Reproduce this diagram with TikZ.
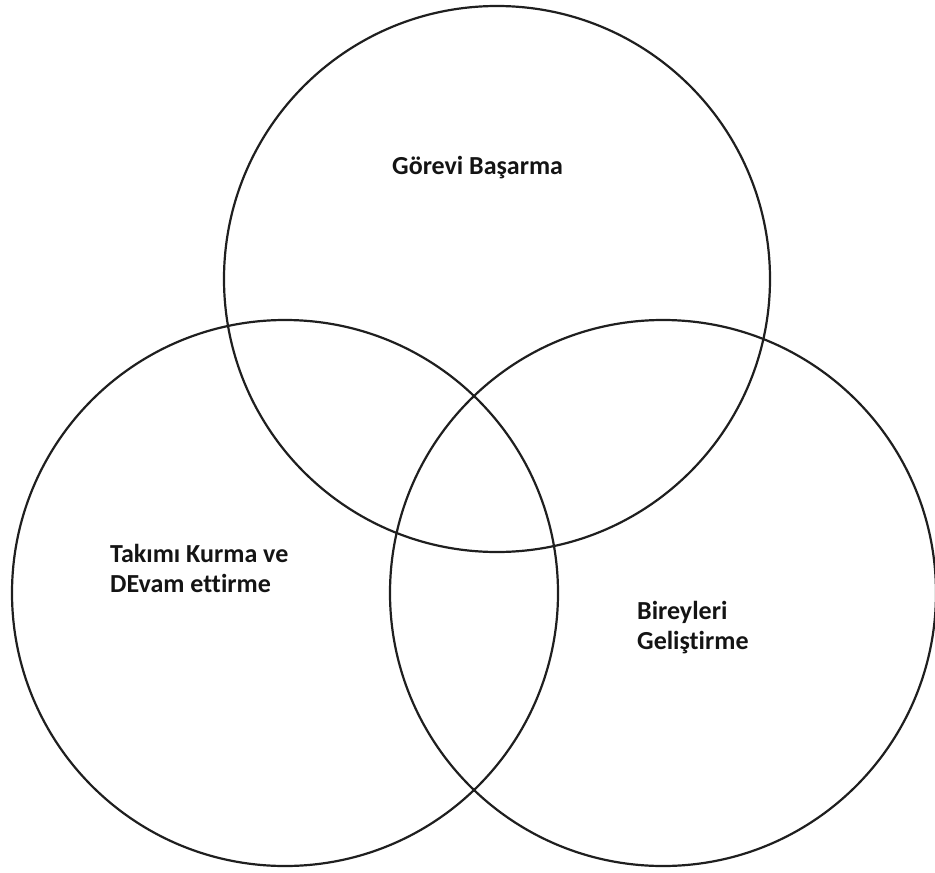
\documentclass[tikz,border=0pt]{standalone}
\usepackage{fontspec}
\setmainfont{Carlito}[Ligatures=NoCommon]
\begin{document}
\begin{tikzpicture}[x=1pt,y=-1pt,
  ring/.style={draw=black!88,line width=2.2pt},
  lbl/.style={font=\fontsize{26}{31}\selectfont\bfseries,inner sep=0pt,anchor=base west,text=black!92}]
  \useasboundingbox (0,0) rectangle (935,873);
  % three overlapping circles
  \draw[ring] (497,279) circle[radius=273];
  \draw[ring] (285,593) circle[radius=273];
  \draw[ring] (663,593) circle[radius=273];
  % labels
  \node[lbl] (gorev) at (392,174) {Görevi Başarma};
  \node[lbl] (takim1) at (110,562) {Takımı Kurma ve};
  \node[lbl] (takim2) at (110,592) {DEvam ettirme};
  \node[lbl] (birey1) at (637,619) {Bireyleri};
  \node[lbl] (birey2) at (637,649) {Geliştirme};
\end{tikzpicture}
\end{document}
